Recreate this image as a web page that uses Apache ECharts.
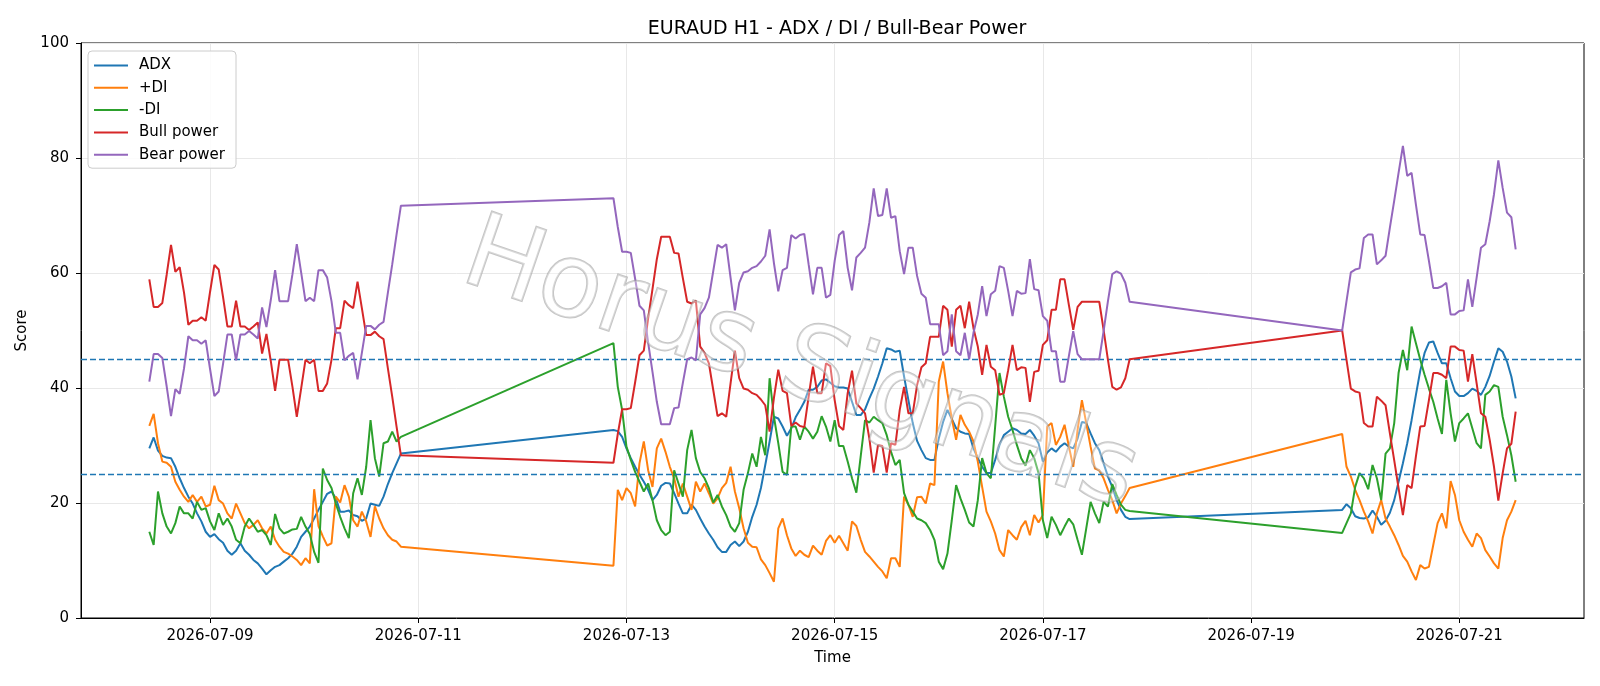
<!DOCTYPE html>
<html>
<head>
<meta charset="utf-8">
<script src="https://cdn.jsdelivr.net/npm/echarts@6/dist/echarts.min.js"></script>
<style>
html,body{margin:0;padding:0;background:#ffffff;}
#chart{width:1600px;height:686px;}
</style>
</head>
<body>
<div id="chart"></div>
<script>
// Hourly bars, three trading blocks: [first bar (UTC), number of bars]
const timeSegments = [
  ['2026-07-08T10:00:00Z', 59],
  ['2026-07-12T21:00:00Z', 120],
  ['2026-07-19T21:00:00Z', 41]
];
const tickDates = ['2026-07-09', '2026-07-11', '2026-07-13', '2026-07-15', '2026-07-17', '2026-07-19', '2026-07-21'];
const thresholds = [25, 45];
const seriesNames = ['ADX', '+DI', '-DI', 'Bull power', 'Bear power'];

const adxValues = [
  29.5, 31.4, 29.1, 28.2, 27.9, 27.8, 26.3, 24.3, 22.6, 21.1, 19.9, 18.2, 16.8, 15.0, 14.1, 14.6, 13.7, 13.1, 11.7, 11.0, 11.7,
  13.0, 11.7, 11.0, 10.1, 9.5, 8.6, 7.6, 8.3, 8.9, 9.2, 9.8, 10.4, 11.2, 12.4, 14.1, 15.0, 15.9, 17.3, 18.8, 20.2, 21.6,
  22.0, 20.8, 18.5, 18.5, 18.7, 17.9, 17.7, 16.9, 17.3, 19.9, 19.7, 19.5, 21.1, 23.3, 25.2, 26.9, 28.6,
  32.7, 32.5, 31.5, 29.5, 27.8, 26.3, 24.9, 23.7, 22.3, 20.5, 21.4, 23.0, 23.5, 23.4, 21.7, 19.9, 18.2, 18.2, 19.7, 18.8, 17.3, 15.9, 14.7,
  13.6, 12.3, 11.5, 11.5, 12.7, 13.3, 12.5, 13.3, 15.0, 17.6, 19.7, 22.6, 26.6, 30.7, 35.0, 34.7, 33.3, 31.7, 33.0, 34.9, 36.2, 37.6, 39.7,
  39.7, 40.2, 41.3, 41.5, 40.9, 40.3, 40.1, 40.1, 39.9, 37.6, 35.3, 35.3, 36.3, 38.2, 39.9, 42.0, 44.3, 46.9, 46.7, 46.3, 46.5, 42.0, 37.9, 33.9, 30.8,
  29.2, 27.8, 27.5, 27.5, 31.2, 34.1, 36.2, 34.6, 33.0, 32.4, 32.1, 32.0, 29.5, 27.8, 26.3, 25.2, 25.2, 27.5, 30.1, 31.8, 32.4, 33.0, 32.7, 32.1, 32.0,
  32.7, 31.7, 30.4, 27.2, 28.8, 29.5, 28.9, 29.8, 30.4, 29.8, 29.5, 31.2, 34.1, 33.9, 32.1, 30.4, 29.2, 26.9, 24.6, 22.8, 20.5, 18.8, 17.6, 17.2,
  18.8, 19.8, 19.1, 17.7, 17.4, 17.3, 17.5, 18.7, 17.6, 16.2, 16.9, 18.3, 20.5, 23.7, 26.9, 30.4, 34.4, 38.8, 43.0, 46.1,
  47.9, 48.1, 46.1, 44.3, 44.3, 41.7, 39.4, 38.6, 38.6, 39.1, 39.9, 39.5, 38.8, 40.2, 42.1, 44.6, 46.9, 46.3, 44.6, 42.0, 38.2
];

const plusDiValues = [
  33.4, 35.5, 30.4, 27.2, 27.0, 26.3, 23.7, 22.3, 21.1, 20.2, 21.4, 20.2, 21.1, 19.4, 19.7, 23.0, 20.5, 19.9, 18.2, 17.3, 19.9,
  18.2, 16.5, 15.6, 16.2, 17.0, 15.6, 14.7, 15.9, 13.6, 12.4, 11.5, 11.2, 10.7, 10.1, 9.2, 10.4, 9.5, 22.4, 16.0, 14.2, 12.6,
  13.0, 21.1, 20.1, 23.1, 21.1, 17.0, 15.9, 18.5, 16.8, 14.1, 19.4, 17.3, 15.6, 14.4, 13.6, 13.3, 12.4,
  9.1, 22.3, 20.5, 22.6, 21.7, 19.4, 26.9, 30.7, 25.7, 22.8, 29.5, 31.2, 28.9, 26.3, 24.3, 21.1, 23.4, 21.1, 18.8, 23.7, 22.0, 23.4, 21.7,
  19.9, 20.8, 22.6, 23.5, 26.3, 22.0, 19.1, 15.6, 13.1, 12.4, 12.3, 10.2, 9.2, 7.8, 6.3, 15.6, 17.3, 14.4, 12.1, 10.8, 11.7, 11.0, 10.6,
  12.6, 11.7, 11.0, 13.4, 14.4, 13.1, 14.3, 13.0, 11.7, 16.8, 16.0, 13.6, 11.5, 10.7, 9.8, 8.9, 8.1, 6.9, 10.4, 10.4, 8.9, 21.1, 19.7, 17.6, 21.0,
  21.1, 19.9, 23.4, 23.1, 41.1, 44.6, 39.1, 34.7, 31.0, 35.3, 33.6, 32.4, 30.7, 27.2, 22.8, 18.5, 16.8, 14.7, 11.8, 10.7, 15.3, 14.4, 13.6, 15.8, 16.9,
  14.4, 17.9, 16.6, 17.9, 33.3, 33.9, 30.1, 31.5, 33.6, 29.8, 26.3, 32.7, 37.9, 33.9, 29.8, 26.0, 25.7, 24.3, 22.3, 20.5, 18.2, 19.9, 21.2, 22.6,
  32.0, 26.3, 24.6, 22.3, 20.5, 18.5, 16.8, 14.7, 18.2, 20.5, 17.3, 15.9, 14.4, 12.7, 10.8, 9.8, 8.1, 6.6, 9.2, 8.6,
  8.9, 12.7, 16.5, 18.2, 15.6, 23.8, 21.4, 17.0, 15.0, 13.6, 12.4, 14.7, 13.9, 11.8, 10.7, 9.5, 8.6, 13.9, 17.0, 18.5, 20.5
];

const minusDiValues = [
  15.0, 12.7, 22.0, 18.2, 15.9, 14.7, 16.5, 19.4, 18.2, 18.2, 17.3, 20.2, 18.8, 19.1, 16.8, 15.3, 18.2, 16.2, 17.3, 15.9, 13.6,
  13.0, 15.9, 17.3, 16.2, 15.0, 15.3, 14.4, 12.7, 18.1, 15.6, 14.7, 15.0, 15.4, 15.5, 17.6, 15.9, 14.6, 11.5, 9.6, 26.0, 24.0,
  22.6, 19.9, 17.6, 15.6, 13.9, 21.7, 24.3, 21.4, 26.3, 34.4, 27.8, 24.6, 30.4, 30.7, 32.4, 30.7, 31.5,
  47.8, 40.2, 36.2, 29.8, 27.5, 25.4, 23.7, 22.0, 23.4, 20.5, 17.0, 15.3, 14.4, 15.0, 25.7, 23.4, 21.1, 29.2, 32.7, 27.8, 25.4, 24.3, 22.6,
  20.1, 21.4, 19.4, 17.9, 15.9, 15.0, 16.5, 22.3, 25.2, 28.6, 26.3, 31.5, 28.3, 41.7, 35.0, 30.4, 25.4, 24.9, 33.3, 33.3, 31.0, 33.3, 32.4,
  31.2, 32.4, 35.1, 33.3, 30.7, 34.4, 29.9, 29.9, 27.2, 24.3, 21.8, 28.1, 34.4, 34.0, 35.0, 34.4, 33.9, 31.8, 28.9, 26.6, 27.5, 21.7, 19.7, 18.5, 17.3,
  17.0, 16.5, 15.3, 13.6, 9.8, 8.5, 11.2, 17.0, 23.1, 20.8, 18.8, 16.6, 15.9, 20.5, 27.8, 25.2, 24.3, 33.3, 42.6, 38.5, 35.0, 32.7, 30.1, 27.8, 26.5,
  29.2, 27.8, 25.2, 17.0, 13.9, 17.6, 16.2, 14.4, 15.9, 17.3, 16.3, 13.6, 11.0, 15.6, 20.2, 18.2, 16.5, 20.2, 19.4, 23.3, 21.4, 19.7, 18.8, 18.6,
  14.8, 16.5, 18.2, 22.8, 25.2, 24.3, 22.4, 26.6, 24.3, 20.5, 28.6, 29.5, 33.9, 42.6, 46.6, 43.1, 50.7, 47.8, 44.9, 42.3,
  39.9, 37.6, 34.7, 32.0, 41.4, 35.6, 30.7, 33.9, 34.7, 35.6, 33.0, 30.4, 29.5, 38.8, 39.4, 40.5, 40.2, 35.0, 31.8, 28.3, 23.7
];

const bullPowerValues = [
  58.9, 54.1, 54.1, 54.8, 59.7, 64.9, 60.2, 61.0, 56.6, 51.0, 51.7, 51.7, 52.3, 51.7, 56.7, 61.4, 60.6, 55.8, 50.7, 50.7, 55.2,
  50.7, 50.7, 50.1, 50.7, 51.4, 46.0, 49.4, 44.7, 39.5, 44.9, 44.9, 44.9, 40.2, 35.0, 39.9, 44.9, 44.3, 44.9, 39.5, 39.5, 40.8,
  44.9, 50.4, 50.4, 55.2, 54.4, 53.9, 58.5, 53.9, 49.2, 49.2, 49.8, 49.0, 48.5, 43.4, 38.5, 33.3, 28.3,
  27.0, 32.0, 36.3, 36.3, 36.5, 41.0, 45.7, 46.5, 52.1, 57.2, 62.4, 66.3, 66.3, 66.3, 63.5, 63.4, 59.1, 55.0, 54.7, 55.2, 47.2, 46.1, 44.3,
  39.7, 35.1, 35.6, 35.0, 40.8, 46.5, 41.7, 39.9, 39.7, 39.1, 38.8, 38.0, 37.0, 32.4, 38.3, 43.2, 39.5, 39.1, 33.4, 34.0, 33.4, 33.2, 38.5,
  43.7, 39.1, 39.1, 44.3, 43.8, 37.9, 33.4, 32.7, 39.1, 43.0, 37.3, 36.5, 35.6, 31.2, 25.3, 30.1, 29.9, 25.3, 30.4, 30.1, 36.2, 40.2, 35.6, 35.6, 40.5,
  43.6, 44.3, 48.9, 48.9, 48.9, 54.3, 53.6, 47.2, 53.6, 54.3, 50.4, 55.0, 50.4, 47.2, 42.3, 47.5, 43.7, 43.1, 38.8, 39.1, 43.1, 47.5, 43.1, 43.6, 43.5,
  37.6, 42.8, 43.0, 47.5, 48.3, 53.6, 53.6, 58.9, 58.9, 54.4, 50.1, 54.1, 55.0, 55.0, 55.0, 55.0, 55.0, 50.1, 44.9, 40.2, 39.7, 40.1, 41.7, 45.0,
  50.0, 44.9, 39.9, 39.4, 39.2, 33.9, 33.3, 33.3, 38.5, 37.8, 37.0, 32.1, 27.4, 22.6, 17.9, 23.1, 22.6, 28.1, 33.3, 33.4,
  37.9, 42.6, 42.6, 42.3, 41.7, 47.2, 47.2, 46.6, 46.5, 41.1, 45.9, 40.8, 35.6, 35.0, 31.0, 26.3, 20.4, 25.2, 29.5, 30.3, 35.9
];

const bearPowerValues = [
  41.1, 45.9, 45.9, 45.2, 40.3, 35.1, 39.8, 39.0, 43.4, 49.0, 48.3, 48.3, 47.7, 48.3, 43.3, 38.6, 39.4, 44.2, 49.3, 49.3, 44.8,
  49.3, 49.3, 49.9, 49.3, 48.6, 54.0, 50.6, 55.3, 60.5, 55.1, 55.1, 55.1, 59.8, 65.0, 60.1, 55.1, 55.7, 55.1, 60.5, 60.5, 59.2,
  55.1, 49.6, 49.6, 44.8, 45.6, 46.1, 41.5, 46.1, 50.8, 50.8, 50.2, 51.0, 51.5, 56.6, 61.5, 66.7, 71.7,
  73.0, 68.0, 63.7, 63.7, 63.5, 59.0, 54.3, 53.5, 47.9, 42.8, 37.6, 33.7, 33.7, 33.7, 36.5, 36.6, 40.9, 45.0, 45.3, 44.8, 52.8, 53.9, 55.7,
  60.3, 64.9, 64.4, 65.0, 59.2, 53.5, 58.3, 60.1, 60.3, 60.9, 61.2, 62.0, 63.0, 67.6, 61.7, 56.8, 60.5, 60.9, 66.6, 66.0, 66.6, 66.8, 61.5,
  56.3, 60.9, 60.9, 55.7, 56.2, 62.1, 66.6, 67.3, 60.9, 57.0, 62.7, 63.5, 64.4, 68.8, 74.7, 69.9, 70.1, 74.7, 69.6, 69.9, 63.8, 59.8, 64.4, 64.4, 59.5,
  56.4, 55.7, 51.1, 51.1, 51.1, 45.7, 46.4, 52.8, 46.4, 45.7, 49.6, 45.0, 49.6, 52.8, 57.7, 52.5, 56.3, 56.9, 61.2, 60.9, 56.9, 52.5, 56.9, 56.4, 56.5,
  62.4, 57.2, 57.0, 52.5, 51.7, 46.4, 46.4, 41.1, 41.1, 45.6, 49.9, 45.9, 45.0, 45.0, 45.0, 45.0, 45.0, 49.9, 55.1, 59.8, 60.3, 59.9, 58.3, 55.0,
  50.0, 55.1, 60.1, 60.6, 60.8, 66.1, 66.7, 66.7, 61.5, 62.2, 63.0, 67.9, 72.6, 77.4, 82.1, 76.9, 77.4, 71.9, 66.7, 66.6,
  62.1, 57.4, 57.4, 57.7, 58.3, 52.8, 52.8, 53.4, 53.5, 58.9, 54.1, 59.2, 64.4, 65.0, 69.0, 73.7, 79.6, 74.8, 70.5, 69.7, 64.1
];

const seriesColors = ['#1f77b4', '#ff7f0e', '#2ca02c', '#d62728', '#9467bd'];

// ---- build timestamps (hourly within each block) ----
const times = [];
timeSegments.forEach(([start, n]) => {
  const t0 = Date.parse(start);
  for (let i = 0; i < n; i++) times.push(t0 + i * 3600000);
});
const toPairs = vals => vals.map((v, i) => [times[i], v]);
const tickValues = tickDates.map(d => Date.parse(d + 'T00:00:00Z'));

const xMin = Date.UTC(2026, 6, 7, 18, 15);
const xMax = Date.UTC(2026, 6, 22, 4, 45);

const FONT = 'DejaVu Sans';
const valueSets = [adxValues, plusDiValues, minusDiValues, bullPowerValues, bearPowerValues];

const series = seriesNames.map((name, i) => ({
  name: name,
  type: 'line',
  symbol: 'none',
  showSymbol: false,
  data: toPairs(valueSets[i]),
  lineStyle: { width: 2, color: seriesColors[i] },
  itemStyle: { color: seriesColors[i] },
  z: 2 + i,
  animation: false
}));
series[series.length - 1].markLine = {
  silent: true,
  symbol: 'none',
  label: { show: false },
  animation: false,
  lineStyle: { type: [6, 3], color: '#1f77b4', width: 1.3 },
  data: thresholds.map(v => ({ yAxis: v }))
};

const chart = echarts.init(document.getElementById('chart'), null, { renderer: 'canvas' });
chart.setOption({
  animation: false,
  backgroundColor: '#ffffff',
  textStyle: { fontFamily: FONT },
  title: {
    text: 'EURAUD H1 - ADX / DI / Bull-Bear Power',
    left: 832,
    textAlign: 'center',
    top: 15,
    textStyle: { fontFamily: FONT, fontSize: 19, fontWeight: 'normal', color: '#000000' }
  },
  grid: {
    left: 81, right: 16, top: 43, bottom: 68,
    show: true, borderColor: '#000000', borderWidth: 1, backgroundColor: 'transparent'
  },
  legend: {
    orient: 'vertical',
    left: 88,
    top: 51,
    padding: [6, 11, 5, 6],
    icon: 'rect',
    itemWidth: 34,
    itemHeight: 2,
    itemGap: 5.3,
    backgroundColor: 'rgba(255,255,255,0.85)',
    borderColor: '#cccccc',
    borderWidth: 1,
    borderRadius: 4,
    textStyle: { fontFamily: FONT, fontSize: 15, color: '#000000', padding: [0, 0, 0, 6], lineHeight: 17 },
    data: seriesNames
  },
  xAxis: {
    type: 'value',
    min: xMin,
    max: xMax,
    name: 'Time',
    nameLocation: 'middle',
    nameGap: 33,
    nameTextStyle: { fontFamily: FONT, fontSize: 15, color: '#000000' },
    axisLine: { show: true, onZero: false, lineStyle: { color: '#000000', width: 1 } },
    axisTick: { show: true, customValues: tickValues, length: 5, inside: false, lineStyle: { color: '#000000', width: 1 } },
    axisLabel: {
      customValues: tickValues,
      margin: 11,
      color: '#000000',
      fontSize: 15,
      fontFamily: FONT,
      formatter: v => new Date(v).toISOString().slice(0, 10)
    },
    splitLine: { show: true, lineStyle: { color: '#e8e8e8', width: 1 } }
  },
  yAxis: {
    type: 'value',
    min: 0,
    max: 100,
    interval: 20,
    name: 'Score',
    nameLocation: 'middle',
    nameGap: 42,
    nameRotate: 90,
    nameTextStyle: { fontFamily: FONT, fontSize: 15, color: '#000000' },
    axisLine: { show: true, lineStyle: { color: '#000000', width: 1 } },
    axisTick: { show: true, length: 5, inside: false, lineStyle: { color: '#000000', width: 1 } },
    axisLabel: { margin: 12, color: '#000000', fontSize: 15, fontFamily: FONT },
    splitLine: { show: true, lineStyle: { color: '#e8e8e8', width: 1 } }
  },
  graphic: [{
    type: 'text',
    x: 800,
    y: 368,
    rotation: -0.33,
    silent: true,
    z: 100,
    style: {
      text: 'Horus Signals',
      font: '103px "DejaVu Sans"',
      textAlign: 'center',
      textVerticalAlign: 'middle',
      fill: 'rgba(255,255,255,0.35)',
      stroke: 'rgba(150,150,150,0.55)',
      lineWidth: 2,
      shadowBlur: 6,
      shadowColor: 'rgba(0,0,0,0.25)',
      shadowOffsetX: 5,
      shadowOffsetY: 5
    }
  }],
  series: series
});
</script>
</body>
</html>
